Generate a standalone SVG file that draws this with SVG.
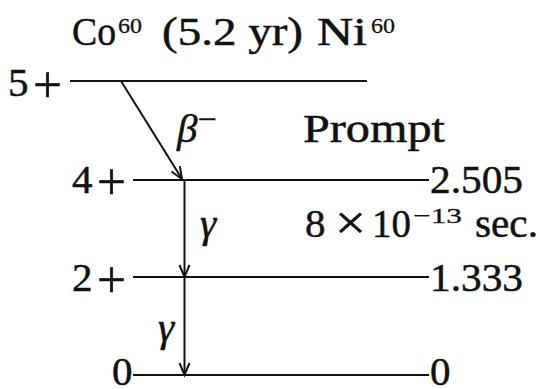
<svg xmlns="http://www.w3.org/2000/svg" width="540" height="389" viewBox="0 0 540 389">
<style>
.t{font-family:"Liberation Serif","DejaVu Serif","Times New Roman",serif;font-size:41px;fill:#111;stroke:#111;stroke-width:0.5}
.s{font-family:"Liberation Serif","DejaVu Serif","Times New Roman",serif;font-size:22px;fill:#111;stroke:#111;stroke-width:0.3}
.p{font-size:52px}
.i{font-style:italic}
.lv{stroke:#111;stroke-width:2;fill:none}
.ar{stroke:#111;stroke-width:2;fill:none;marker-end:url(#ah)}
</style>
<defs>
<marker id="ah" markerUnits="userSpaceOnUse" markerWidth="16" markerHeight="14" refX="13" refY="6" orient="auto">
<path d="M1,1 L13,6 L1,11" stroke="#111" stroke-width="2" fill="none"/>
</marker>
</defs>
<rect width="540" height="389" fill="#fff"/>
<g id="title">
<text class="t" x="72" y="45" textLength="44" lengthAdjust="spacingAndGlyphs">Co</text>
<text class="s" x="118" y="33" textLength="24" lengthAdjust="spacingAndGlyphs">60</text>
<text class="t" x="162" y="45" textLength="141" lengthAdjust="spacingAndGlyphs">(5.2 yr)</text>
<text class="t" x="317" y="45" textLength="50" lengthAdjust="spacingAndGlyphs">Ni</text>
<text class="s" x="371" y="33" textLength="24" lengthAdjust="spacingAndGlyphs">60</text>
</g>
<g id="level-5plus">
<text class="t" x="8" y="96">5</text>
<text class="t p" x="33" y="102" textLength="29" lengthAdjust="spacingAndGlyphs">+</text>
<line class="lv" x1="70" y1="81" x2="367" y2="81"/>
</g>
<g id="level-4plus">
<text class="t" x="72" y="193">4</text>
<text class="t p" x="97" y="199" textLength="29" lengthAdjust="spacingAndGlyphs">+</text>
<line class="lv" x1="133" y1="180" x2="429" y2="180"/>
<text class="t" x="430" y="193" textLength="93" lengthAdjust="spacingAndGlyphs">2.505</text>
</g>
<g id="level-2plus">
<text class="t" x="72" y="291">2</text>
<text class="t p" x="97" y="297" textLength="29" lengthAdjust="spacingAndGlyphs">+</text>
<line class="lv" x1="133" y1="277" x2="429" y2="277"/>
<text class="t" x="430" y="291" textLength="93" lengthAdjust="spacingAndGlyphs">1.333</text>
</g>
<g id="level-0">
<text class="t" x="112" y="385">0</text>
<line class="lv" x1="133" y1="375" x2="429" y2="375"/>
<text class="t" x="430" y="385">0</text>
</g>
<g id="notes">
<text class="t" x="303" y="142" textLength="142" lengthAdjust="spacingAndGlyphs">Prompt</text>
<text class="t" x="305" y="237">8</text>
<text class="t" x="335" y="239" style="font-size:48px" textLength="31" lengthAdjust="spacingAndGlyphs">×</text>
<text class="t" x="372" y="237" textLength="39" lengthAdjust="spacingAndGlyphs">10</text>
<text class="s" x="413" y="223" textLength="49" lengthAdjust="spacingAndGlyphs">−13</text>
<text class="t" x="475" y="237" textLength="63" lengthAdjust="spacingAndGlyphs">sec.</text>
</g>
<g id="connectors">
<line class="ar" x1="121" y1="81" x2="182" y2="179"/>
<line class="ar" x1="184.5" y1="181" x2="184.5" y2="277"/>
<line class="ar" x1="184.5" y1="278" x2="184.5" y2="375"/>
<text class="t i" x="177" y="142">β</text>
<text class="t" x="198" y="129" style="font-size:30px" textLength="19" lengthAdjust="spacingAndGlyphs">−</text>
<text class="t i" x="200" y="237">γ</text>
<text class="t i" x="158" y="341">γ</text>
</g>
</svg>
